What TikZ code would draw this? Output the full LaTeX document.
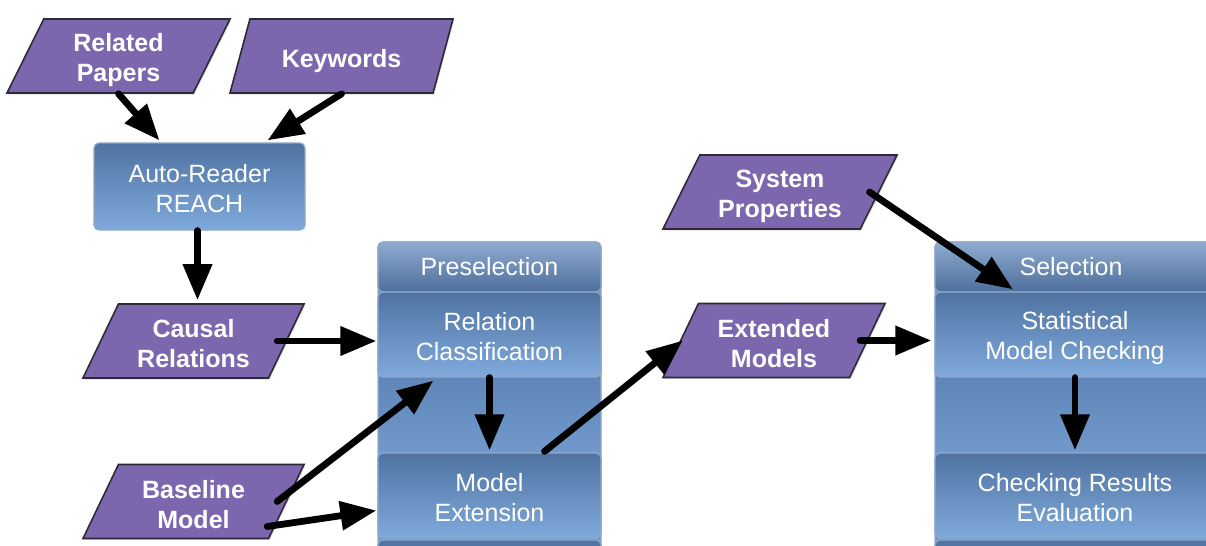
\documentclass[tikz,border=0pt]{standalone}
\usepackage{fontspec}
\setmainfont{Liberation Sans}
\usetikzlibrary{arrows.meta,shapes.geometric,calc,shadows}

\definecolor{paraFill}{HTML}{7C67AF}
\definecolor{paraEdge}{HTML}{2E2A38}
\definecolor{boxTop}{HTML}{4F73A1}
\definecolor{boxBot}{HTML}{7FAADC}
\definecolor{boxEdge}{HTML}{8FA7C8}
\definecolor{headTop}{HTML}{8EAAD0}
\definecolor{headBot}{HTML}{4D6F9C}
\definecolor{gapTop}{HTML}{5E86B8}
\definecolor{gapBot}{HTML}{7199CB}
\definecolor{colEdge}{HTML}{9AAFCB}

% invisible rules that balance the first and last line of a label
\newcommand\botstrut{\rule[-1.5pt]{0pt}{1pt}}
\newcommand\twolines[3][13pt]{\rule{0pt}{#1}#2\\#3\botstrut}

\begin{document}
\begin{tikzpicture}[x=0.5pt,y=-0.5pt,
  para/.style={trapezium, trapezium left angle=59, trapezium right angle=121,
    trapezium stretches body, fill=paraFill, draw=paraEdge, line width=0.8pt,
    text=white, font=\fontsize{12.5}{15}\selectfont\bfseries,
    align=center, inner sep=0pt, minimum height=37pt,
    drop shadow={shadow xshift=0.6pt, shadow yshift=-0.8pt, opacity=0.25}},
  boxbase/.style={rectangle, rounded corners=2.5pt, top color=boxTop,
    bottom color=boxBot, draw=boxEdge, line width=0.6pt, text=white,
    font=\fontsize{12.5}{15}\selectfont, align=center, inner sep=0pt},
  bluebox/.style={boxbase},
  headbox/.style={boxbase, top color=headTop, bottom color=headBot},
  flow/.style={line width=3.4pt, line cap=round,
    -{Triangle[length=18pt,width=14pt]}},
]
\clip (0,0) rectangle (1206,546);
\fill[white] (0,0) rectangle (1206,546);

% ---- input parallelograms ----
\node[para, minimum width=111.5pt] (rp) at (118.5,56) {\twolines{Related}{Papers}};
\node[para, minimum width=111.5pt] (kw) at (341.5,56) {\rule{0pt}{14pt}Keywords\botstrut};
\node[para, minimum width=110.5pt] (cr) at (193.5,341) {\twolines{Causal}{Relations}};
\node[para, minimum width=110.5pt] (bm) at (193.5,501.5) {\twolines{Baseline}{Model}};
\node[para, minimum width=111pt] (em) at (774,340.5) {\twolines{Extended}{Models}};
\node[para, minimum width=117pt] (sp) at (780,192) {\twolines{System}{Properties}};

% ---- reader box ----
\node[bluebox, minimum width=105.5pt, minimum height=43.5pt] (ar)
  at (199.5,186.5) {\twolines[12pt]{Auto-Reader}{REACH}};

% ---- preselection column ----
\fill[top color=gapTop, bottom color=gapBot, draw=colEdge, line width=0.6pt,
  rounded corners=2.5pt] (378,242) rectangle (601,600);
\fill[top color=gapTop, bottom color=gapBot] (379,377) rectangle (600,453);
\node[headbox, minimum width=111.5pt, minimum height=25pt] (pre)
  at (489.5,267) {Preselection};
\node[bluebox, minimum width=111.5pt, minimum height=42.5pt] (pc)
  at (489.5,334.5) {\twolines[12.5pt]{Relation}{Classification}};
\node[bluebox, minimum width=111.5pt, minimum height=42.5pt] (me)
  at (489.5,495.5) {\twolines[12.5pt]{Model}{Extension}};
\node[bluebox, minimum width=111.5pt, minimum height=42.5pt] (pnext)
  at (489.5,582.5) {};

% ---- selection column ----
\fill[top color=gapTop, bottom color=gapBot, draw=colEdge, line width=0.6pt,
  rounded corners=2.5pt] (935,242) rectangle (1215,600);
\fill[top color=gapTop, bottom color=gapBot] (936,377) rectangle (1214,453);
\node[headbox, minimum width=140pt, minimum height=25pt] (sel)
  at (1075,267) {\hspace*{-4pt}Selection};
\node[bluebox, minimum width=140pt, minimum height=42.5pt] (sc)
  at (1075,334.5) {\twolines[12.5pt]{Statistical}{Model Checking}};
\node[bluebox, minimum width=140pt, minimum height=42.5pt] (cre)
  at (1075,495.5) {\twolines[12.5pt]{Checking Results}{Evaluation}};
\node[bluebox, minimum width=140pt, minimum height=42.5pt] (snext)
  at (1075,582.5) {};

% ---- connectors ----
\draw[flow] (rp.south) -- ($(ar.north)+(-40,-2)$);
\draw[flow] (kw.south) -- ($(ar.north)+(68,-2)$);
\draw[flow] ($(ar.south)+(-2,0)$) -- ($(ar.south |- cr.north)+(-2,-3)$);
\draw[flow] ($(cr.east)+(-10,0)$) -- ($(pc.west |- cr.east)+(-1,0)$);
\draw[flow] ($(bm.east)+(-10,0)$) -- ($(pc.south west)+(56,3)$);
\draw[flow] ($(bm.east)+(-20,25)$) -- ($(me.west)+(-1,15)$);
\draw[flow] (pc.south) -- ($(me.north)+(0,-2)$);
\draw[flow] ($(me.north)+(55,-1)$) -- ($(em.west)+(3,0)$);
\draw[flow] ($(em.east)+(-8,0)$) -- ($(sc.west |- em.east)+(-3,0)$);
\draw[flow] ($(sp.east)+(-10,0)$) -- ($(sc.north)+(-62,-2)$);
\draw[flow] (sc.south) -- ($(cre.north)+(0,-2)$);
\end{tikzpicture}
\end{document}
